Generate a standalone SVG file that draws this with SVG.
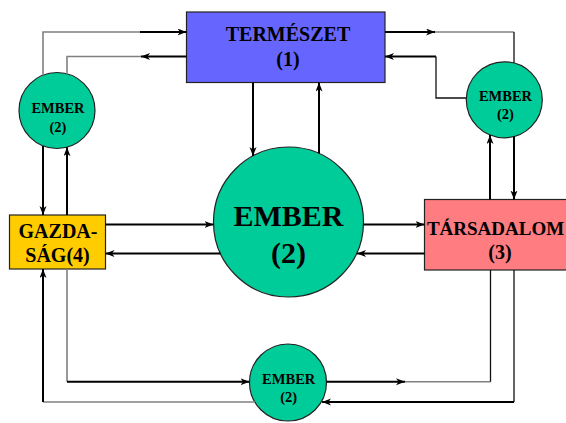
<svg xmlns="http://www.w3.org/2000/svg" width="566" height="423" viewBox="0 0 566 423">
<defs>
<marker id="arr" markerUnits="userSpaceOnUse" markerWidth="10" markerHeight="8" refX="9" refY="3.5" orient="auto">
<path d="M0,0 L9,3.5 L0,7 L2.5,3.5 z" fill="#000"/>
</marker>
</defs>
<style>
.box{stroke:#222;stroke-width:1.2}
.circ{fill:#00CC99;stroke:#222;stroke-width:1.2}
.t{font-family:"Liberation Serif","Times New Roman",serif;font-weight:bold;fill:#000;text-anchor:middle}
.k{fill:none;stroke:#000;stroke-width:2}
.kt{fill:none;stroke:#111;stroke-width:1.3}
.g{fill:none;stroke:#808080;stroke-width:1.6}
.a{marker-end:url(#arr)}
</style>
<rect width="566" height="423" fill="#fff"/>
<g id="termeszet">
<rect class="box" x="186.5" y="12" width="198.5" height="70.5" fill="#6666FF"/>
<text class="t" x="288" y="41" font-size="20">TERMÉSZET</text>
<text class="t" x="288" y="66" font-size="20">(1)</text>
</g>
<g id="ember-center">
<circle class="circ" cx="288.5" cy="222" r="75"/>
<text class="t" x="288.5" y="226" font-size="30">EMBER</text>
<text class="t" x="288.5" y="263" font-size="30">(2)</text>
</g>
<g id="gazdasag">
<rect class="box" x="9.5" y="215" width="96" height="54" fill="#FFCC00"/>
<text class="t" x="58" y="237.5" font-size="20">GAZDA-</text>
<text class="t" x="57.5" y="262" font-size="20">SÁG(4)</text>
</g>
<g id="tarsadalom">
<rect class="box" x="424.5" y="199.5" width="160" height="70.5" fill="#FF7C80"/>
<text class="t" x="495.5" y="235" font-size="19">TÁRSADALOM</text>
<text class="t" x="500" y="258.5" font-size="20">(3)</text>
</g>
<g id="ember-topleft">
<circle class="circ" cx="57" cy="110.5" r="38"/>
<text class="t" x="58" y="113" font-size="14.5">EMBER</text>
<text class="t" x="58" y="131.5" font-size="14.5">(2)</text>
</g>
<g id="ember-topright">
<circle class="circ" cx="504.3" cy="99.8" r="38"/>
<text class="t" x="505.5" y="100.7" font-size="14.5">EMBER</text>
<text class="t" x="505.5" y="118.5" font-size="14.5">(2)</text>
</g>
<g id="ember-bottom">
<circle class="circ" cx="288" cy="382.5" r="38.5"/>
<text class="t" x="288.7" y="384.3" font-size="14.5">EMBER</text>
<text class="t" x="288.7" y="402" font-size="14.5">(2)</text>
</g>
<g id="connectors">
<path class="g" d="M43,75 V32 H140"/>
<path class="k a" d="M140,32 H186.5"/>
<path class="k a" d="M186.5,56.5 H141"/>
<path class="g" d="M141,56.5 H67 V74"/>
<path class="k a" d="M43,146 V215"/>
<path class="k a" d="M67,215 V147.2"/>
<path class="k a" d="M253,82.5 V156"/>
<path class="k a" d="M319,153.5 V82.5"/>
<path class="k a" d="M385,32 H435"/>
<path class="g" d="M435,32 H514"/>
<path class="kt" d="M514,32 V63"/>
<path class="kt" d="M466.3,98 H436 V56.5"/>
<path class="k a" d="M436,56.5 H385"/>
<path class="k a" d="M490,199.5 V135"/>
<path class="k a" d="M514,136.5 V199.5"/>
<path class="k a" d="M105.5,224.5 H213.5"/>
<path class="k a" d="M220.5,253.5 H105.5"/>
<path class="k a" d="M363.5,224.5 H424.5"/>
<path class="k a" d="M424.5,253.5 H357"/>
<path class="g" d="M67,269 V381.7"/>
<path class="k a" d="M67,381.7 H249.5"/>
<path class="g" d="M255,402 H43"/>
<path class="k a" d="M43,402 V269"/>
<path class="k a" d="M326.5,381.7 H405"/>
<path class="g" d="M405,381.7 H490.5"/>
<path class="kt" d="M490.5,381.7 V270"/>
<path class="kt" d="M514,270 V402"/>
<path class="k a" d="M514,402 H322"/>
</g>
</svg>
